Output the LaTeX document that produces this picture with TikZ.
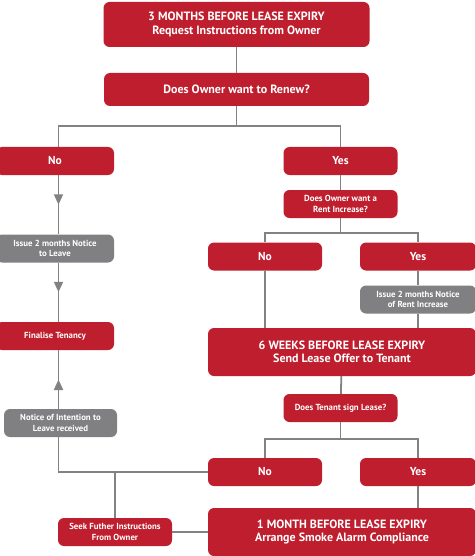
\documentclass[tikz,border=0pt]{standalone}
\usepackage{fontspec}
\setmainfont{PT Sans}
\usetikzlibrary{arrows.meta,decorations.markings}
\definecolor{leasered}{RGB}{190,30,45}
\definecolor{leasegrey}{RGB}{128,128,130}
\definecolor{linegrey}{RGB}{130,130,130}
\tikzset{
  redbox/.style={fill=leasered, text=white, rounded corners=6pt, align=center, inner sep=0pt,
    minimum width=114pt, minimum height=28pt, font=\bfseries\fontsize{8.8}{10.5}\selectfont},
  answer/.style={redbox, font=\bfseries\fontsize{11.5}{13}\selectfont},
  bigbox/.style={redbox, minimum width=266pt, font=\bfseries\fontsize{12}{13.5}\selectfont},
  greybox/.style={redbox, fill=leasegrey},
  flow/.style={draw=linegrey, line width=1.8pt},
  midarrow/.style={flow, postaction={decorate}, decoration={markings,
    mark=at position 0.5 with {\arrow[linegrey]{Triangle[width=9pt,length=10.5pt]}}}}
}
\begin{document}
\begin{tikzpicture}[x=1pt, y=-1pt]
        \useasboundingbox (0,0) rectangle (474,556);
        \node[bigbox, minimum height=45pt] (start) at (236.5,24.5) {3 MONTHS BEFORE LEASE EXPIRY\\Request Instructions from Owner};
        \node[bigbox, minimum width=265pt, minimum height=33pt] (renew) at (236.5,89.5) {Does Owner want to Renew?};
        \node[answer, minimum width=118pt] (no1) at (55,161) {No};
        \node[answer] (yes1) at (340.5,161) {Yes};
        \node[redbox] (rentq) at (340.5,204) {Does Owner want a\\Rent Increase?};
        \node[answer] (no2) at (265,256.5) {No};
        \node[answer, minimum width=116pt] (yes2) at (418,256.5) {Yes};
        \node[greybox, minimum width=116pt] (rentnotice) at (418,299.5) {Issue 2 months Notice\\of Rent Increase};
        \node[greybox, minimum width=118pt] (leavenotice) at (55,248.5) {Issue 2 months Notice\\to Leave};
        \node[redbox, minimum width=118pt] (finalise) at (55,336) {Finalise Tenancy};
        \node[greybox, minimum width=113pt] (intent) at (60.5,423) {Notice of Intention to\\Leave received};
        \node[bigbox, minimum width=268pt, minimum height=48pt] (sixweeks) at (342,352) {6 WEEKS BEFORE LEASE EXPIRY\\Send Lease Offer to Tenant};
        \node[redbox] (tenantq) at (340.5,408) {Does Tenant sign Lease?};
        \node[answer] (no3) at (265,472) {No};
        \node[answer, minimum width=116pt] (yes3) at (418,472) {Yes};
        \node[redbox] (seek) at (115,532) {Seek Futher Instructions\\From Owner};
        \node[bigbox, minimum width=268pt, minimum height=48pt] (onemonth) at (342,532) {1 MONTH BEFORE LEASE EXPIRY\\Arrange Smoke Alarm Compliance};
        \coordinate (split1) at (236.5,126);
        \coordinate (split2) at (340.5,233);
        \coordinate (split3) at (340.5,439);
        \coordinate (leftcol) at (58.5,0);
        \coordinate (branch) at (115,472);
        \draw[flow] (start) -- (renew);
        \draw[flow] (renew) -- (split1);
        \draw[flow] (no1.north -| leftcol) |- (split1) -| (yes1.north);
        \draw[flow] (yes1) -- (rentq);
        \draw[flow] (rentq) -- (split2);
        \draw[flow] (no2.north) |- (split2) -| (yes2.north);
        \draw[flow] (yes2) -- (rentnotice);
        \draw[flow] (no2) -- (no2.south |- sixweeks.north);
        \draw[flow] (rentnotice) -- (rentnotice.south |- sixweeks.north);
        \draw[flow] (sixweeks) -- (tenantq);
        \draw[flow] (tenantq) -- (split3);
        \draw[flow] (no3.north) |- (split3) -| (yes3.north);
        \draw[flow] (yes3) -- (yes3.south |- onemonth.north);
        \draw[midarrow] (no1.south -| leftcol) -- (leavenotice.north -| leftcol);
        \draw[midarrow] (leavenotice.south -| leftcol) -- (finalise.north -| leftcol);
        \draw[midarrow] (intent.north -| leftcol) -- (finalise.south -| leftcol);
        \draw[flow] (no3.west) -| (intent.south -| leftcol);
        \draw[flow] (branch) -- (seek.north);
        \draw[flow] (seek) -- (onemonth);
    \end{tikzpicture}
\end{document}
